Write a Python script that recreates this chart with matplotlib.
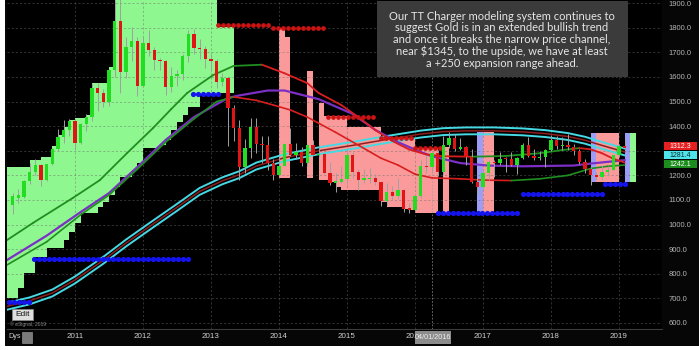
import numpy as np
import matplotlib
matplotlib.use("Agg")
import matplotlib.pyplot as plt
from matplotlib.collections import LineCollection
from matplotlib.patches import Rectangle

W, H = 699, 350
FONT = "Liberation Sans"

# ---------------- data ----------------
# x axis: k = months since Jan 2010 (k=1 -> Feb 2010, k=109 -> Feb 2019)
year_labels = ["2011", "2012", "2013", "2014", "2015", "2016", "2017", "2018", "2019"]
year_k = [12, 24, 36, 48, 60, 72, 84, 96, 108]
price_ticks = [600, 700, 800, 900, 1000, 1100, 1200, 1300, 1400, 1500, 1600, 1700, 1800, 1900]

bar_k = list(range(1, 110))
opens = [1081, 1110, 1113, 1179, 1212, 1244, 1181, 1248, 1307, 1357, 1386, 1421,
         1333, 1409, 1439, 1556, 1536, 1500, 1628, 1828, 1620, 1722, 1746, 1565,
         1737, 1711, 1668, 1664, 1559, 1604, 1614, 1687, 1773, 1719, 1712, 1675,
         1663, 1578, 1596, 1472, 1393, 1234, 1312, 1396, 1327, 1323, 1250, 1202,
         1240, 1326, 1284, 1295, 1250, 1322, 1282, 1287, 1211, 1171, 1175, 1184,
         1283, 1213, 1183, 1186, 1190, 1172, 1095, 1133, 1115, 1142, 1065, 1061,
         1118, 1238, 1234, 1293, 1215, 1322, 1351, 1309, 1316, 1273, 1173, 1152,
         1211, 1254, 1249, 1268, 1266, 1242, 1269, 1322, 1280, 1271, 1275, 1303,
         1345, 1318, 1325, 1315, 1299, 1253, 1224, 1201, 1192, 1215, 1222, 1281,
         1321]
highs = [1128, 1145, 1180, 1249, 1265, 1246, 1248, 1310, 1388, 1424, 1431, 1424,
         1411, 1448, 1576, 1577, 1552, 1632, 1913, 1921, 1764, 1803, 1763, 1764,
         1791, 1720, 1677, 1668, 1641, 1628, 1692, 1790, 1796, 1755, 1727, 1694,
         1675, 1617, 1605, 1487, 1424, 1348, 1433, 1434, 1361, 1361, 1268, 1280,
         1333, 1392, 1331, 1315, 1326, 1345, 1323, 1292, 1256, 1208, 1238, 1307,
         1295, 1224, 1224, 1232, 1205, 1175, 1170, 1157, 1191, 1144, 1088, 1126,
         1263, 1283, 1299, 1304, 1362, 1375, 1367, 1352, 1318, 1306, 1188, 1220,
         1264, 1263, 1296, 1274, 1296, 1274, 1332, 1358, 1306, 1299, 1307, 1366,
         1362, 1356, 1369, 1326, 1309, 1266, 1235, 1214, 1243, 1237, 1284, 1326,
         1346]
lows = [1045, 1087, 1110, 1165, 1203, 1155, 1176, 1242, 1300, 1330, 1360, 1308,
        1329, 1381, 1420, 1462, 1478, 1481, 1600, 1535, 1595, 1667, 1523, 1563,
        1687, 1627, 1627, 1527, 1540, 1564, 1588, 1660, 1692, 1672, 1636, 1626,
        1555, 1562, 1321, 1338, 1180, 1208, 1270, 1290, 1251, 1221, 1180, 1200,
        1239, 1277, 1268, 1240, 1240, 1281, 1273, 1207, 1161, 1131, 1170, 1167,
        1191, 1142, 1168, 1170, 1162, 1077, 1080, 1098, 1106, 1053, 1046, 1058,
        1107, 1208, 1209, 1199, 1200, 1310, 1301, 1304, 1241, 1171, 1123, 1146,
        1180, 1194, 1241, 1214, 1237, 1205, 1266, 1275, 1261, 1264, 1236, 1300,
        1307, 1303, 1302, 1282, 1245, 1211, 1160, 1180, 1183, 1196, 1221, 1276,
        1302]
closes = [1118, 1122, 1179, 1212, 1244, 1181, 1248, 1307, 1357, 1386, 1421, 1333,
          1409, 1439, 1556, 1536, 1500, 1628, 1828, 1620, 1722, 1746, 1565, 1737,
          1711, 1668, 1664, 1559, 1604, 1614, 1687, 1773, 1719, 1712, 1675, 1663,
          1578, 1596, 1472, 1393, 1234, 1312, 1396, 1327, 1323, 1250, 1202, 1240,
          1326, 1284, 1295, 1250, 1322, 1282, 1287, 1211, 1171, 1175, 1184, 1283,
          1213, 1183, 1186, 1190, 1172, 1095, 1133, 1115, 1142, 1065, 1061, 1118,
          1238, 1234, 1293, 1215, 1322, 1351, 1309, 1316, 1273, 1173, 1152, 1211,
          1254, 1249, 1268, 1266, 1242, 1269, 1322, 1280, 1271, 1275, 1303, 1345,
          1318, 1325, 1315, 1299, 1253, 1224, 1201, 1192, 1215, 1222, 1281, 1321,
          1312.3]

# TT Charger zones: each spans one bar slot [k, k+1]
bull_k = list(range(0, 40)) + [110]
bull_lo = [700, 700, 742, 803, 803, 868, 868, 905, 905, 905,
           937, 970, 1007, 1047, 1047, 1047, 1072, 1092, 1120, 1153,
           1193, 1193, 1222, 1250, 1311, 1311, 1311, 1323, 1344, 1385,
           1417, 1445, 1478, 1478, 1527, 1527, 1527, 1535, 1535, 1535, 1173]
bull_hi = [1234, 1234, 1234, 1234, 1262, 1262, 1275, 1275, 1320, 1365,
           1395, 1425, 1432, 1432, 1445, 1575, 1575, 1575, 1640, 1915,
           1915, 1915, 1915, 1915, 1915, 1915, 1915, 1915, 1915, 1915,
           1915, 1915, 1915, 1915, 1915, 1915, 1915, 1805, 1805, 1805, 1372]
bear_k = [48, 49, 53] + list(range(55, 76)) + [77, 84, 85, 104, 105, 106, 107]
bear_lo = [1190, 1190, 1190,
           1181, 1181, 1175, 1153, 1140, 1140, 1140, 1140, 1140, 1140, 1140,
           1092, 1072, 1072, 1072, 1065, 1060, 1047, 1047, 1047, 1047,
           1047, 1047, 1047, 1173, 1173, 1173, 1173]
bear_hi = [1800, 1763, 1625,
           1494, 1442, 1442, 1442, 1442, 1397, 1397, 1397, 1397, 1397, 1397,
           1350, 1350, 1350, 1350, 1350, 1350, 1311, 1311, 1311, 1311,
           1315, 1376, 1376, 1372, 1372, 1372, 1372]
turn_k = [83, 103, 109]
turn_lo = [1047, 1173, 1173]
turn_hi = [1376, 1372, 1372]

# support (blue) and resistance (red) dotted levels: (price, first bar, last bar)
support_levels = [(685, 0.3, 4.4), (860, 4.7, 32.3), (1530, 32.8, 37.2),
                  (1047, 76.0, 90.5), (1125, 91.0, 105.5), (1165, 105.6, 109.8)]
resist_levels = [(1811, 37.3, 46.4), (1800, 47.0, 56.5), (1437, 56.6, 65.3),
                 (1352, 66.0, 71.5), (1313, 72.0, 76.5)]

# moving averages (k, value)
fast_k = [0, 4.6, 11.6, 16.4, 21.2, 25.8, 29, 31.8, 36.4, 40, 45, 49, 53, 55, 59,
          62, 65, 68, 71, 74, 77, 82, 88, 94, 98, 101, 103, 105, 107, 109]
fast_v = [937, 1007, 1108, 1181, 1291, 1393, 1470, 1535, 1608, 1645, 1650, 1615,
          1575, 1535, 1486, 1437, 1384, 1340, 1305, 1285, 1278, 1276, 1279, 1290,
          1303, 1311, 1306, 1290, 1268, 1252]
mid_k = [0, 7, 13, 18, 23, 28, 33, 37, 40, 44, 47, 50, 53, 58, 62, 66, 69, 72, 75,
         80, 84, 89, 94, 99, 103, 106, 109]
mid_v = [836, 930, 1040, 1120, 1225, 1335, 1430, 1500, 1519, 1505, 1486, 1466,
         1437, 1375, 1323, 1270, 1242, 1205, 1190, 1186, 1181, 1179, 1186, 1200,
         1228, 1237, 1242.1]
purple_k = [0, 7, 13, 18, 23, 28, 33, 39, 41, 46, 49, 55, 61, 65, 69, 73, 75, 80,
            85, 91, 100, 103, 109]
purple_v = [856, 955, 1051, 1128, 1234, 1344, 1437, 1515, 1525, 1545, 1545, 1510,
            1450, 1385, 1335, 1295, 1278, 1250, 1240, 1237, 1240, 1248, 1262]
slow_k = [0, 4, 8, 12, 17, 21, 25, 30, 34, 38, 41, 44, 49, 55, 61, 67, 73, 77, 81,
          86, 91, 95, 99, 102, 105, 109]
slow_v = [668, 690, 722, 775, 855, 925, 990, 1070, 1135, 1178, 1203, 1238, 1272,
          1300, 1322, 1346, 1368, 1378, 1381, 1381, 1377, 1370, 1358, 1343, 1322,
          1295.4]
slow_band = 14.0

note_lines = ["Our TT Charger modeling system continues to",
              "suggest Gold is in an extended bullish trend",
              "and once it breaks the narrow price channel,",
              "near $1345, to the upside, we have at least",
              "a +250 expansion range ahead."]

# ---------------- figure ----------------
fig = plt.figure(figsize=(W / 100, H / 100), dpi=100)
fig.patch.set_facecolor("white")


def fx(x):
    return x / W


def fy(y):
    return 1 - y / H


fig.add_artist(Rectangle((fx(5), fy(346)), fx(W - 5), 346 / H, transform=fig.transFigure,
                         facecolor="#060606", edgecolor="none", zorder=-5))

ax = fig.add_axes([fx(7), fy(329), 655 / W, 329 / H])
ax.set_facecolor("#000000")
YMIN, YMAX = 575.6, 1913.0
ax.set_xlim(0, 115.6)
ax.set_ylim(YMIN, YMAX)


def price_to_px(p):
    return 329 * (YMAX - p) / (YMAX - YMIN)


# zones
ax.bar(bull_k, np.subtract(bull_hi, bull_lo), bottom=bull_lo, width=1.0, align="edge",
       color="#8ff78f", linewidth=0, zorder=1)
ax.bar(bear_k, np.subtract(bear_hi, bear_lo), bottom=bear_lo, width=1.0, align="edge",
       color="#fb9a9a", linewidth=0, zorder=1)
ax.bar(turn_k, np.subtract(turn_hi, turn_lo), bottom=turn_lo, width=1.0, align="edge",
       color="#9d9df7", linewidth=0, zorder=1)

# dashed grid
for p in price_ticks:
    ax.axhline(p, color="#6a6a6a", alpha=0.55, lw=0.6, ls=(0, (2.5, 2.5)), zorder=1.5)
for k in year_k:
    ax.axvline(k, color="#6a6a6a", alpha=0.55, lw=0.6, ls=(0, (2.5, 2.5)), zorder=1.5)
ax.axvline(75, color="#9a9a9a", alpha=0.8, lw=0.6, ls=(0, (2, 2)), zorder=1.6)


def trend_line(ks, vs, up, down, lw, z):
    pts = np.column_stack([ks, vs])
    segs = [pts[i:i + 2] for i in range(len(pts) - 1)]
    cols = [up if vs[i + 1] >= vs[i] else down for i in range(len(pts) - 1)]
    ax.add_collection(LineCollection(segs, colors=cols, linewidths=lw,
                                     capstyle="round", joinstyle="round", zorder=z))


# slow channel
slow_hi = np.add(slow_v, slow_band)
slow_lo = np.subtract(slow_v, slow_band)
ax.plot(slow_k, slow_hi, color="#45d9e3", lw=1.4, zorder=3)
ax.plot(slow_k, slow_lo, color="#45d9e3", lw=1.4, zorder=3)
ax.plot(slow_k, slow_v, color="#8e1d1d", lw=1.1, zorder=3)

ax.plot(purple_k, purple_v, color="#7b2fc4", lw=1.6, zorder=3)
trend_line(mid_k, mid_v, "#1f8f1f", "#d81f1f", 1.2, 3.1)
trend_line(fast_k, fast_v, "#1f8f1f", "#d81f1f", 1.3, 3.2)

# dotted levels
for p, k0, k1 in support_levels:
    xs = np.arange(k0, k1 + 0.01, 0.88)
    ax.plot(xs, [p] * len(xs), ls="none", marker="o", ms=2.7, mfc="#1414f0",
            mec="#1414f0", zorder=4)
for p, k0, k1 in resist_levels:
    xs = np.arange(k0, k1 + 0.01, 0.88)
    ax.plot(xs, [p] * len(xs), ls="none", marker="o", ms=2.4, mfc="#cc1414",
            mec="#cc1414", zorder=4)

# candles
ax.vlines(bar_k, lows, highs, color="#a0a0a0", lw=0.7, zorder=5)
body_lo = np.minimum(opens, closes)
body_h = np.maximum(np.abs(np.subtract(closes, opens)), 5)
body_col = ["#22dd22" if c >= o else "#e01616" for o, c in zip(opens, closes)]
ax.bar(bar_k, body_h, bottom=body_lo, width=0.62, color=body_col, linewidth=0, zorder=6)

# axes styling
for s in ("top", "left", "right"):
    ax.spines[s].set_visible(False)
ax.spines["bottom"].set_color("#3c3c3c")
ax.spines["bottom"].set_linewidth(0.8)
ax.yaxis.tick_right()
ax.set_yticks(price_ticks)
# the 1300 level sits under the last-value tags, so its label is left blank
ax.set_yticklabels(["" if p == 1300 else f"{p:.1f}" for p in price_ticks], family=FONT)
ax.tick_params(axis="y", length=0, pad=5, labelsize=5.5, labelcolor="#b5b5b5")
ax.set_xticks(year_k)
ax.set_xticklabels(year_labels, family=FONT)
ax.tick_params(axis="x", length=0, pad=3.2, labelsize=5.8, labelcolor="#d0d0d0")

# last-value tags on the price scale, stacked so they do not collide
tags = [(closes[-1], "#e62020", "white"),
        (slow_lo[-1], "#4fe3ea", "#0a2a2a"),
        (mid_v[-1], "#1c8c1c", "white")]
prev = None
for val, bg, fg in tags:
    yc = price_to_px(val) - 1.5
    if prev is not None:
        yc = max(yc, prev + 9.0)
    prev = yc
    fig.add_artist(Rectangle((fx(664), fy(yc + 4)), 33 / W, 8 / H, transform=fig.transFigure,
                             facecolor=bg, edgecolor="none", zorder=7))
    fig.text(fx(680.5), fy(yc), f"{val:.1f}", ha="center", va="center", fontsize=5.0,
             color=fg, family=FONT, zorder=8)

# commentary box
fig.add_artist(Rectangle((fx(377), fy(77)), 251 / W, 76 / H, transform=fig.transFigure,
                         facecolor="#3b3b3b", edgecolor="none", zorder=7))
for i, line in enumerate(note_lines):
    fig.text(fx(502), fy(16 + 11.8 * i), line, ha="center", va="center", fontsize=8.0,
             color="#e6e6e6", family="Lato", zorder=8)

# footer widgets
fig.add_artist(Rectangle((fx(12), fy(320)), 21 / W, 11 / H, transform=fig.transFigure,
                         facecolor="#dedede", edgecolor="#8a8a8a", lw=0.5, zorder=7))
fig.text(fx(22.5), fy(314.5), "Edit", ha="center", va="center", fontsize=6,
         color="#111111", family=FONT, zorder=8)
fig.text(fx(10), fy(324.5), "\u00a9 eSignal, 2019", ha="left", va="center", fontsize=3.6,
         color="#8a8a8a", family=FONT, zorder=8)
fig.text(fx(8), fy(337), "Dys", ha="left", va="center", fontsize=5.2,
         color="#cfcfcf", family=FONT, zorder=8)
fig.add_artist(Rectangle((fx(22), fy(343)), 10 / W, 11 / H, transform=fig.transFigure,
                         facecolor="#7a7a7a", edgecolor="#a0a0a0", lw=0.4, zorder=7))
fig.add_artist(Rectangle((fx(415), fy(344)), 36 / W, 13 / H, transform=fig.transFigure,
                         facecolor="#8c8c8c", edgecolor="none", zorder=7))
fig.text(fx(433), fy(337.5), "04/01/2016", ha="center", va="center", fontsize=5.2,
         color="#f0f0f0", family=FONT, zorder=8)

fig.savefig("out.png", dpi=100, facecolor=fig.get_facecolor())
